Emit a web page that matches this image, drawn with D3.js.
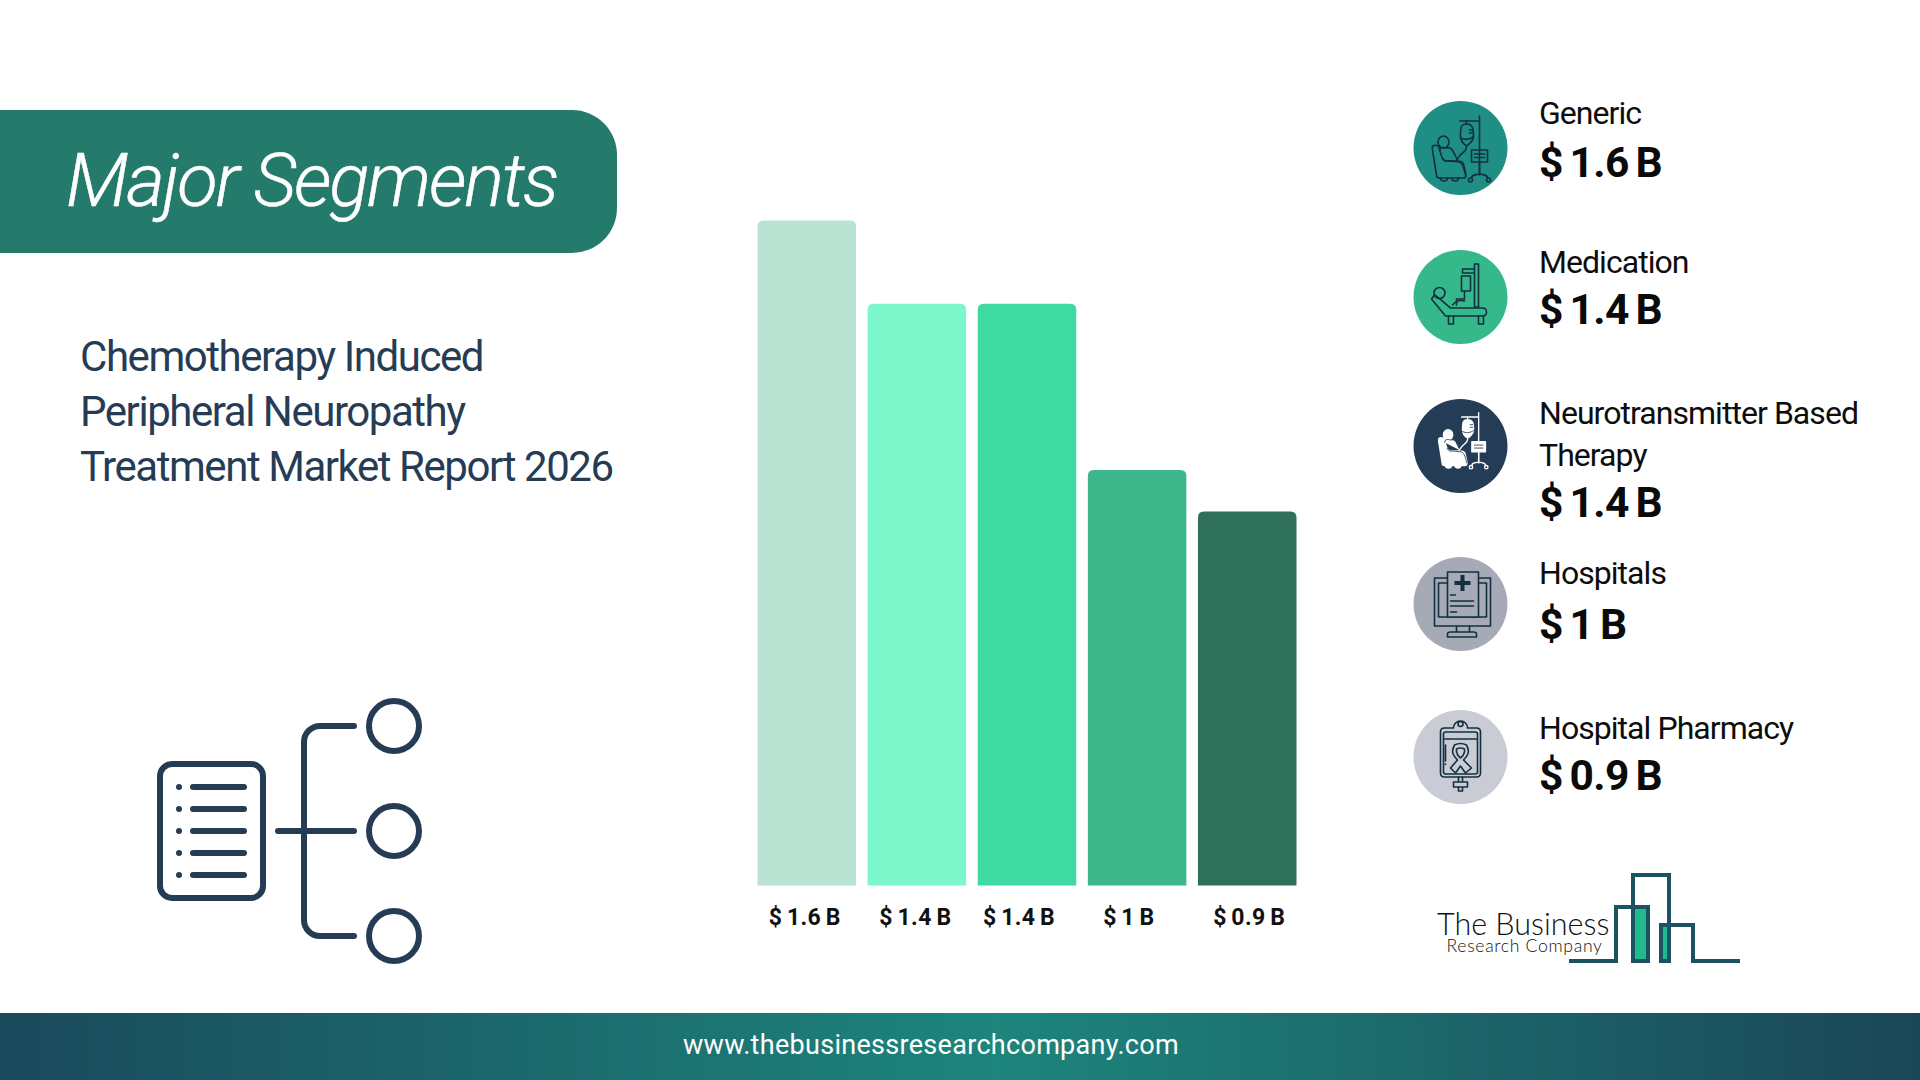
<!DOCTYPE html>
<html><head><meta charset="utf-8">
<script src="https://cdn.jsdelivr.net/npm/d3@7"></script>
<style>
html,body{margin:0;padding:0;background:#fff;overflow:hidden}
svg{display:block;font-family:Roboto,sans-serif}
</style></head><body><svg id="c" width="1920" height="1080" viewBox="0 0 1920 1080"></svg>
<script>
const categories = ["Generic","Medication","Neurotransmitter Based Therapy","Hospitals","Hospital Pharmacy"];
const values = [1.6,1.4,1.4,1.0,0.9];
const valueLabels = ["$ 1.6 B","$ 1.4 B","$ 1.4 B","$ 1 B","$ 0.9 B"];
const titleLines = ["Chemotherapy Induced","Peripheral Neuropathy","Treatment Market Report 2026"];

const barColors = ["#b9e3d3","#7cf7cb","#3fd9a2","#3eb68b","#2e7059"];
const iconColors = ["#1f8f85","#35b88a","#243c56","#a6aab6","#c9cbd5"];
const labelShift = [-2,-1.5,-8,-8.2,2];
const iconCy = [148,297,446,604,757];
const nameBase = [[124],[273],[424,466],[584],[739]];
const valueBase = [177,324,517,639,790];
const navy = "#263c55", ink = "#12303f";

const svg = d3.select("#c");
const defs = svg.append("defs");
function lin(id,stops){
  const g=defs.append("linearGradient").attr("id",id).attr("x1",0).attr("x2",1).attr("y1",0).attr("y2",0);
  stops.forEach(([o,c])=>g.append("stop").attr("offset",o).attr("stop-color",c));
}
lin("foot",[[0,"#1a4a5c"],[0.52,"#1d857c"],[1,"#1b4658"]]);

// header pill
svg.append("path").attr("fill","#247a6b")
  .attr("d","M0 110H572A45 45 0 0 1 617 155V208A45 45 0 0 1 572 253H0Z");
svg.append("text").attr("x",66).attr("y",206).attr("fill","#fff").attr("stroke","#fff").attr("stroke-width",0.5)
  .attr("font-size",74.5).attr("font-style","italic").attr("font-weight",300)
  .attr("letter-spacing",-2.2).text("Major Segments");

// report title
svg.append("g").selectAll("text").data(titleLines).join("text")
  .attr("x",80).attr("y",(d,i)=>370.5+i*55).attr("fill",navy)
  .attr("font-size",42).attr("letter-spacing",-1.45).text(d=>d);

// hierarchy icon
const h = svg.append("g").attr("fill","none").attr("stroke",navy).attr("stroke-width",6).attr("stroke-linecap","round");
h.append("rect").attr("x",160).attr("y",764).attr("width",103).attr("height",134).attr("rx",12);
d3.range(5).forEach(i=>{
  const y=787+i*22;
  h.append("circle").attr("cx",179).attr("cy",y).attr("r",3).attr("fill",navy).attr("stroke","none");
  h.append("line").attr("x1",193).attr("x2",244).attr("y1",y).attr("y2",y);
});
h.append("path").attr("d","M354 726H320A16 16 0 0 0 304 742V920A16 16 0 0 0 320 936H354M278 831H354");
[726,831,936].forEach(y=>h.append("circle").attr("cx",394).attr("cy",y).attr("r",25));

// bars
const x = d3.scaleBand().domain(d3.range(values.length)).range([757.5,1296.5]).paddingInner(0.105).paddingOuter(0);
const y = d3.scaleLinear().domain([0,1.6]).range([885.5,220.5]);
function topRounded(x0,y0,w,h,r){
  const p=d3.path();
  p.moveTo(x0,y0+h); p.lineTo(x0,y0+r); p.quadraticCurveTo(x0,y0,x0+r,y0);
  p.lineTo(x0+w-r,y0); p.quadraticCurveTo(x0+w,y0,x0+w,y0+r); p.lineTo(x0+w,y0+h); p.closePath();
  return p.toString();
}
svg.append("g").selectAll("path").data(values).join("path")
  .attr("fill",(d,i)=>barColors[i])
  .attr("d",(d,i)=>topRounded(x(i),y(d),x.bandwidth(),y(0)-y(d),6));

// axis labels
const ax = svg.append("g").attr("transform","translate(0,886)")
  .call(d3.axisBottom(x).tickSize(0).tickPadding(0).tickFormat(i=>valueLabels[i]));
ax.select(".domain").remove();
ax.selectAll("text").attr("font-family","Roboto,sans-serif").attr("font-size",23).attr("font-weight",700)
  .attr("fill","#111").attr("dy",0).attr("y",39).attr("word-spacing",-1.5).attr("letter-spacing",0.4)
  .attr("dx",(i)=>labelShift[i]);

// legend icons
const S=(g,d,o={})=>g.append("path").attr("d",d).attr("fill",o.fill||"none").attr("stroke",o.stroke||"currentColor").attr("stroke-width",o.w||1.6).attr("stroke-linejoin","round").attr("stroke-linecap","round");
const C=(g,cx,cy,r,o={})=>g.append("circle").attr("cx",cx).attr("cy",cy).attr("r",r).attr("fill",o.fill||"none").attr("stroke",o.stroke||"currentColor").attr("stroke-width",o.w||1.6);

function chairIcon(g,filled,bg){
  const f=filled?"#fff":"none", line=filled?bg:"currentColor", w=filled?1:1.6;
  S(g,"M-22 -2C-27 -4 -29 -2 -28 2L-24 27C-24 29 -23 30 -21 30H3C5 30 6 28 5 25L3 16C2 13 0 13 -3 13H-14C-17 13 -18 11 -19 8L-22 -2Z",{fill:f});
  S(g,"M-20 30a3.5 3 0 0 0 7 0M-9 30a3.5 3 0 0 0 7 0",{fill:f});
  g.append("ellipse").attr("cx",-17).attr("cy",-6).attr("rx",5.5).attr("ry",6).attr("fill",f).attr("stroke","currentColor").attr("stroke-width",1.6);
  S(g,"M-21 3C-21 -1 -18 -1 -14 0C-9 -1 -8 2 -6 6L-3 12",{stroke:line,w,fill:f});
  S(g,"M-18 10C-16 14 -14 13 -10 13L-1 14C2 15 4 22 5 27",{stroke:line,w});
  S(g,"M-1 -27H19M19 -32V27");
  S(g,"M6 -1C6 4 2 4 -1 8C-2 10 -3 11 -4 12");
  S(g,"M6 -27V-24C0 -24 0 -20 0 -12C0 -7 3 -4 6 -2C9 -4 13 -7 13 -12C13 -20 12 -24 6 -24Z",{fill:f});
  S(g,"M0 -10C4 -8 8 -8 13 -11M9 -18H12M9 -15H12",{stroke:line,w});
  S(g,"M11 2H27V14H11Z",{fill:f});
  S(g,"M14 6H24M14 9.5H24",{stroke:line,w});
  S(g,"M19 14V26M19 26C14 27 11 27 11 30M19 26C24 27 27 27 27 30");
  C(g,10,32,2); C(g,28,32,2);
}
function bedIcon(g){
  S(g,"M14 -33H18V10H14ZM2 -28H14M2 -24H14M2 -28V-24");
  S(g,"M1 -21H10V-6H1ZM4 -6V2H-4V8");
  C(g,-21,-4,5.5);
  S(g,"M-29 2L-26 -2C-22 0 -14 8 -10 11H22C25 11 26 13 26 15C26 18 25 19 22 19H-15Z");
  S(g,"M-12 19V27H-7V19M18 19V27H23V19M-8 8C-4 3 0 3 4 4");
}
function monitorIcon(g,bg){
  S(g,"M-26 -26H30V22H-26ZM-22 -21H26V13H-22Z");
  S(g,"M-13 -32H18V13H-13Z",{fill:bg});
  g.append("path").attr("d","M0 -29h4v6h6v4h-6v6h-4v-6h-6v-4h6z").attr("fill","currentColor");
  S(g,"M-10 -9H-5M-10 -3H13M-10 2H13M-10 8H-4");
  S(g,"M-4 22V28M9 22V28M-13 33V30C-13 29 -12 28 -10 28H13C15 28 16 29 16 30V33Z");
}
function bagIcon(g){
  S(g,"M-16 -29H-7A7 7 0 0 1 7 -29H16C19 -29 20 -27 20 -25V16C20 19 18 20 16 20H-16C-19 20 -20 19 -20 16V-25C-20 -27 -19 -29 -16 -29Z");
  C(g,0,-33,2.5);
  S(g,"M-15 -25H15C16 -25 17 -24 17 -23V15C17 16 16 17 15 17H-15C-16 17 -17 16 -17 15V-23C-17 -24 -16 -25 -15 -25ZM-17 -18H17M-15 -12V4M-15 7V7.5");
  S(g,"M-6 -12C-10 -5 -7 -1 -3 3L-10 11L-5 16L0 9L5 16L11 11L3 3C7 -1 10 -5 6 -12Q0 -15 -6 -12ZM-4 -8Q0 -10 4 -8L4 -5Q3 -1 0 1Q-3 -1 -4 -5Z");
  S(g,"M-2 20V25M2 20V25M-7 25H7V30H-7ZM-2 30V34H2V30");
}
const drawers=[
  g=>chairIcon(g,false),
  bedIcon,
  (g,bg)=>chairIcon(g.append("g").attr("transform","translate(2,-6) scale(.85)"),true,bg),
  monitorIcon,
  bagIcon];

// legend
const leg = svg.append("g").selectAll("g").data(categories).join("g");
leg.each(function(d,i){
  const g=d3.select(this);
  g.append("circle").attr("cx",1460.5).attr("cy",iconCy[i]).attr("r",47).attr("fill",iconColors[i]);
  const ic=g.append("g").attr("transform",`translate(1460.5,${iconCy[i]})`).style("color",i===2?"#fff":ink);
  drawers[i](ic,iconColors[i]);
  const lines = i===2 ? ["Neurotransmitter Based","Therapy"] : [d];
  lines.forEach((t,k)=>g.append("text").attr("x",1539).attr("y",nameBase[i][k])
    .attr("font-size",32).attr("letter-spacing",-0.95).attr("fill","#0d0d0d").text(t));
  g.append("text").attr("x",1539).attr("y",valueBase[i]).attr("font-size",42.5).attr("font-weight",700)
    .attr("fill","#0a0a0a").attr("letter-spacing",-0.6).attr("word-spacing",-3.2).text(valueLabels[i]);
});

// logo
const logo=svg.append("g");
logo.append("rect").attr("x",1633).attr("y",907).attr("width",15).attr("height",54).attr("fill","#1fbb8c");
logo.append("rect").attr("x",1661).attr("y",925).attr("width",8).attr("height",36).attr("fill","#1fbb8c");
logo.append("path").attr("fill","none").attr("stroke","#1d5262").attr("stroke-width",4)
  .attr("d","M1569 961H1616V907H1648V961H1633V875H1669V961H1661V925H1693V961H1740");
const wordmark=logo.append("text").attr("font-family","Lato,sans-serif");
wordmark.append("tspan").attr("x",1437).attr("y",935).attr("font-weight",300)
  .attr("font-size",30.5).attr("fill","#111").text("The Business");
wordmark.append("tspan").attr("x",1446.5).attr("y",951.5).attr("font-weight",300)
  .attr("font-size",17.6).attr("letter-spacing",0.68).attr("fill","#111").text("Research Company");

// footer
svg.append("rect").attr("x",0).attr("y",1013).attr("width",1920).attr("height",67).attr("fill","url(#foot)");
svg.append("text").attr("x",931).attr("y",1054).attr("text-anchor","middle").attr("fill","#fff")
  .attr("font-size",27).attr("font-weight",400).attr("letter-spacing",0.3).text("www.thebusinessresearchcompany.com");
</script></body></html>
